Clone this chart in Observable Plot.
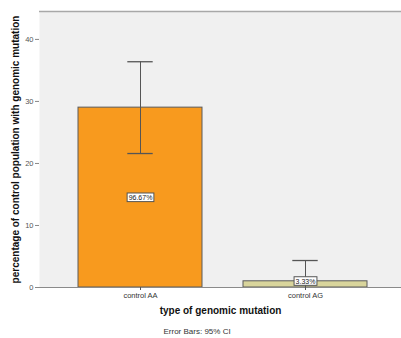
<!DOCTYPE html>
<html>
<head>
<meta charset="utf-8">
<script src="https://cdn.jsdelivr.net/npm/d3@7"></script>
<script src="https://cdn.jsdelivr.net/npm/@observablehq/plot@0.6"></script>
<style>
  html, body { margin: 0; padding: 0; background: #fff; overflow: hidden; }
  #chart svg { display: block; }
</style>
</head>
<body>
<div id="chart"></div>
<script>
const categories = ["control AA", "control AG"];
const values = [29.0, 1.0];
const ciLow = [21.6, 0];
const ciHigh = [36.4, 4.35];
const barLabels = ["96.67%", "3.33%"];
const barColors = ["#f89a1e", "#d9d59c"];
const yTicks = [0, 10, 20, 30, 40];

const data = categories.map((c, i) => ({
  cat: c, value: values[i], lo: ciLow[i], hi: ciHigh[i],
  label: barLabels[i], color: barColors[i],
  labelY: values[i] > 5 ? values[i] / 2 : values[i]
}));

const font = "'Liberation Sans', Arial, sans-serif";

const chart = Plot.plot({
  width: 401,
  height: 338,
  marginLeft: 39,
  marginRight: 0,
  marginTop: 11,
  marginBottom: 51,
  style: { fontFamily: font, background: "#fff", overflow: "visible" },
  x: { type: "band", domain: categories, range: [36.8, 408.1], padding: 0.246, label: null },
  y: { domain: [0, 44.5], label: null },
  marks: [
    Plot.frame({ fill: "#f0f0f0", stroke: "none" }),
    Plot.barY(data, { x: "cat", y: "value", fill: "color", stroke: "#5a5a5a", strokeWidth: 1 }),
    Plot.ruleX(data, { x: "cat", y1: "lo", y2: "hi", stroke: "#555", strokeWidth: 1 }),
    Plot.tickY(data, { x: "cat", y: "hi", stroke: "#555", strokeWidth: 1.3, insetLeft: 49.3, insetRight: 49.3 }),
    Plot.tickY(data, { x: "cat", y: "lo", stroke: "#555", strokeWidth: 1.3, insetLeft: 49.3, insetRight: 49.3, filter: d => d.lo > 0 }),
    Plot.text(data, { x: "cat", y: "labelY", text: "label", fontSize: 7, fill: "#222", className: "boxlabel" }),
    Plot.ruleY([44.5], { stroke: "#a8a8a8", strokeWidth: 1.5 }),
    Plot.ruleX([401], { stroke: "#dddddd" }),
    Plot.axisY(yTicks, { ticks: yTicks, tickSize: 4, tickPadding: 2, fontSize: 7.5, fill: "#555", stroke: "#888", label: null }),
    Plot.ruleX([0], { x: () => 39, stroke: "#8a8a8a" }),
    Plot.ruleY([0], { stroke: "#8a8a8a", strokeWidth: 1 }),
    Plot.axisX({ tickSize: 3, tickPadding: 2, fontSize: 7.5, fill: "#333", stroke: "#555", label: null }),
    Plot.text(["percentage of control population with genomic mutation"], {
      frameAnchor: "left", textAnchor: "middle", rotate: -90, dx: -24, fontSize: 10, fontWeight: "bold", fill: "#111"
    }),
    Plot.text(["type of genomic mutation"], {
      frameAnchor: "bottom", dy: 26, fontSize: 10, fontWeight: "bold", fill: "#111"
    }),
    Plot.text(["Error Bars: 95% CI"], {
      frameAnchor: "bottom-left", dx: 124, dy: 46, textAnchor: "start", fontSize: 8, fill: "#333"
    })
  ]
});

document.getElementById("chart").appendChild(chart);

// add white boxes behind bar value labels
chart.querySelectorAll("g.boxlabel text").forEach(t => {
  const b = t.getBBox();
  const r = document.createElementNS("http://www.w3.org/2000/svg", "rect");
  const padX = 1.5, padY = 0.8;
  r.setAttribute("x", b.x - padX);
  r.setAttribute("y", b.y - padY);
  r.setAttribute("width", b.width + 2 * padX);
  r.setAttribute("height", b.height + 2 * padY);
  r.setAttribute("fill", "#fff");
  r.setAttribute("stroke", "#555");
  r.setAttribute("stroke-width", "1");
  const tr = t.getAttribute("transform");
  if (tr) r.setAttribute("transform", tr);
  t.parentNode.insertBefore(r, t);
});
</script>
</body>
</html>
